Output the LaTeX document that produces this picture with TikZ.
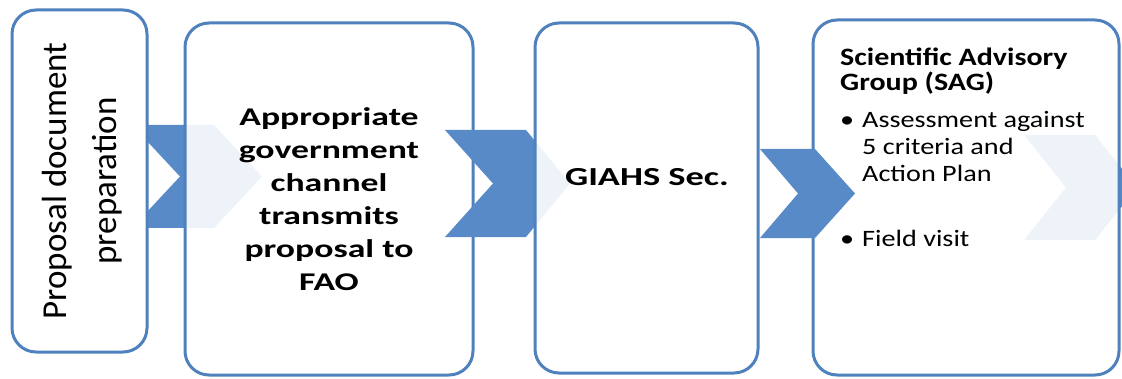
\documentclass[tikz,border=0pt]{standalone}
\usepackage{fontspec}
\setmainfont{Carlito}
\newfontfamily\wideA[FakeStretch=1.4]{Carlito}
\newfontfamily\wideB[FakeStretch=1.2]{Carlito}
\definecolor{stageblue}{RGB}{79,129,189}
\definecolor{chevblue}{RGB}{88,138,200}

\begin{document}
\begin{tikzpicture}[x=1pt, y=1pt,
	stage/.style={draw=stageblue, line width=3pt, rounded corners=24pt, fill=white, fill opacity=0.9, text opacity=1, inner sep=0pt},
	chev/.style={fill=chevblue}]
	\clip (0,0) rectangle (1122,378);

	\fill[chev] (132,253) -- (214,253) -- (262,201.5) -- (214,150) -- (132,150) -- (180,201.5) -- cycle;

	\node[stage, fill opacity=1, minimum width=135pt, minimum height=342pt] (prep) at (79.5,197) {};
	\node[rotate=90, align=center, font=\fontsize{35}{50}\selectfont] (preptext) at (82,197) {Proposal document\\preparation};

	\node[stage, minimum width=288pt, minimum height=352pt, align=center, font=\wideA\bfseries\fontsize{25.5}{33}\selectfont] (channel) at (329,179) {Appropriate\\government\\channel\\transmits\\proposal to\\FAO};

	\fill[chev] (445,248) -- (526,248) -- (570,194.5) -- (526,141) -- (445,141) -- (493,194.5) -- cycle;

	\node[stage, minimum width=223pt, minimum height=350pt] (secretariat) at (646.5,180) {};
	\node[font=\wideA\bfseries\fontsize{26}{30}\selectfont] (sectext) at (647,201) {GIAHS Sec.};

	\fill[chev] (1024,243) -- (1095,243) -- (1137,190.5) -- (1095,138) -- (1024,138) -- (1066,190.5) -- cycle;

	\node[stage, minimum width=306pt, minimum height=355pt] (sag) at (966,180.5) {};

	\fill[chev] (760,229) -- (815,229) -- (855,184.5) -- (815,140) -- (760,140) -- (798,184.5) -- cycle;

	% text of the last stage
	\node[anchor=north west, align=left, inner sep=0pt, font=\wideB\bfseries\fontsize{25}{25}\selectfont] (sagtitle) at (840,330) {Scientific Advisory\\Group (SAG)};
	\node[anchor=north west, align=left, inner sep=0pt, font=\wideB\fontsize{23.5}{27}\selectfont] (sagitems) at (840,267) {\makebox[22pt][l]{\textbullet}Assessment against\\\hspace*{22pt}5 criteria and\\\hspace*{22pt}Action Plan\\[38pt]\makebox[22pt][l]{\textbullet}Field visit};
\end{tikzpicture}
\end{document}
